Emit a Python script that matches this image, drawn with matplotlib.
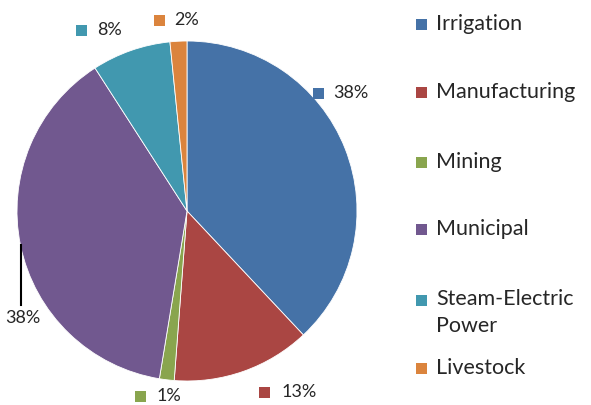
import matplotlib
matplotlib.use("Agg")
import matplotlib.pyplot as plt
from matplotlib.patches import Rectangle

categories = ["Irrigation", "Manufacturing", "Mining", "Municipal", "Steam-Electric\nPower", "Livestock"]
values = [38.0, 13.2, 1.4, 38.3, 7.5, 1.6]
pct_labels = ["38%", "13%", "1%", "38%", "8%", "2%"]
colors = ["#4572A7", "#AA4643", "#89A54E", "#71588F", "#4198AF", "#DB843D"]

W, H = 591, 405
fig = plt.figure(figsize=(W / 100, H / 100), dpi=100)
ax = fig.add_axes([0, 0, 1, 1])
FONT = "Lato"
FS = 13
LFS = 15.5
TXT = "#262626"

def py(y):
    return H - y

wedges, _ = ax.pie(values, colors=colors, startangle=90, counterclock=False,
                   center=(187, py(211)), radius=170,
                   wedgeprops=dict(edgecolor="white", linewidth=0.6))
ax.set_xlim(0, W)
ax.set_ylim(0, H)
ax.set_aspect("equal")
ax.axis("off")

# data labels: (square x, text x, y center, show square)
label_pos = [
    (313, 333, 93, True),
    (259, 282, 392, True),
    (135, 157, 396, True),
    (None, 5, 318, False),
    (76, 97, 30, True),
    (154, 174, 20, True),
]
sq = 11
for (sx, tx, yc, show), lab, col in zip(label_pos, pct_labels, colors):
    if show:
        ax.add_patch(Rectangle((sx, py(yc) - sq / 2), sq, sq, facecolor=col,
                               edgecolor="none", clip_on=False))
    ax.text(tx, py(yc), lab, fontsize=FS, family=FONT, color=TXT,
            ha="left", va="center", clip_on=False)

# leader line for Municipal
ax.plot([20.5, 20.5], [py(245), py(305)], color="black", lw=1.5)

# legend
leg_y = [24, 92, 162, 229, 300, 368]
for cat, col, yc in zip(categories, colors, leg_y):
    ax.add_patch(Rectangle((416, py(yc) - sq / 2), sq, sq, facecolor=col,
                           edgecolor="none", clip_on=False))
    if "\n" in cat:
        ax.text(436, py(yc) + 11, cat, fontsize=LFS, family=FONT, color=TXT,
                ha="left", va="top", linespacing=1.45, clip_on=False)
    else:
        ax.text(436, py(yc), cat, fontsize=LFS, family=FONT, color=TXT,
                ha="left", va="center", clip_on=False)

fig.savefig("out.png", dpi=100)
